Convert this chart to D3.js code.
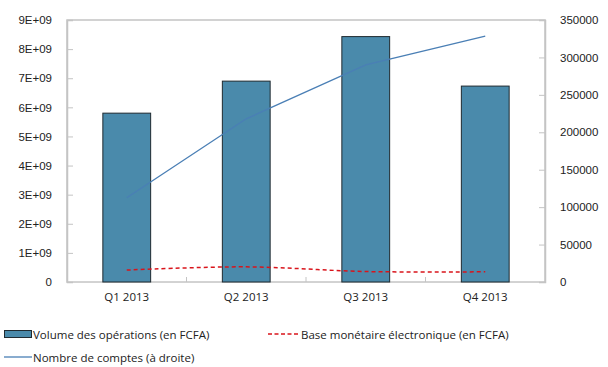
<!DOCTYPE html>
<html>
<head>
<meta charset="utf-8">
<script src="https://cdn.jsdelivr.net/npm/d3@7"></script>
<style>
  html, body { margin: 0; padding: 0; background: #fff; }
  svg { display: block; font-family: "Open Sans", "DejaVu Sans", sans-serif; }
</style>
</head>
<body>
<svg id="chart" width="608" height="367"></svg>
<script>
// Quarterly mobile money figures, 2013
const quarters = ["Q1 2013", "Q2 2013", "Q3 2013", "Q4 2013"];
const volumeOperations = [5.8e9, 6.9e9, 8.43e9, 6.73e9];          // bars, left axis
const baseMonetaire = [0.41e9, 0.52e9, 0.36e9, 0.35e9];            // dashed, left axis
const nombreComptes = [112600, 218000, 290000, 328500];            // line, right axis
const leftTicks = [0, 1e9, 2e9, 3e9, 4e9, 5e9, 6e9, 7e9, 8e9, 9e9];
const rightTicks = [0, 50000, 100000, 150000, 200000, 250000, 300000, 350000];

const svg = d3.select("#chart");
const m = { left: 67, right: 545, top: 20, bottom: 282 };

const x = d3.scaleBand().domain(quarters).range([m.left, m.right]);
const yL = d3.scaleLinear().domain([0, 9e9]).range([m.bottom, m.top]);
const yR = d3.scaleLinear().domain([0, 350000]).range([m.bottom, m.top]);

const axisColor = "#c4c4c4";
const textColor = "#222";

// Plot frame
svg.append("rect")
  .attr("x", m.left).attr("y", m.top)
  .attr("width", m.right - m.left).attr("height", m.bottom - m.top)
  .attr("fill", "none").attr("stroke", axisColor).attr("stroke-width", 1.5);

// Left axis
const fmtE = d => d === 0 ? "0" : (d / 1e9) + "E+09";
const gL = svg.append("g").attr("transform", `translate(${m.left},0)`)
  .call(d3.axisRight(yL).tickValues(leftTicks).tickSize(6).tickFormat(fmtE));
gL.select(".domain").attr("stroke", axisColor).attr("stroke-width", 1.5);
gL.selectAll(".tick line").attr("stroke", axisColor);
gL.selectAll(".tick text")
  .attr("x", -15).attr("text-anchor", "end")
  .attr("fill", textColor).attr("font-size", 11.5);

// Right axis
const gR = svg.append("g").attr("transform", `translate(${m.right},0)`)
  .call(d3.axisLeft(yR).tickValues(rightTicks).tickSize(6).tickFormat(d3.format("d")));
gR.select(".domain").attr("stroke", axisColor).attr("stroke-width", 1.5);
gR.selectAll(".tick line").attr("stroke", axisColor);
gR.selectAll(".tick text")
  .attr("x", 15).attr("text-anchor", "start")
  .attr("fill", textColor).attr("font-size", 11.5);

// Bottom axis: ticks at category boundaries, labels centred on categories
const boundaries = quarters.slice(1).map(q => x(q));
svg.append("g").selectAll("line").data(boundaries).join("line")
  .attr("x1", d => d).attr("x2", d => d)
  .attr("y1", m.bottom).attr("y2", m.bottom - 5)
  .attr("stroke", axisColor);
svg.append("g").selectAll("text").data(quarters).join("text")
  .attr("x", d => x(d) + x.bandwidth() / 2)
  .attr("y", 301)
  .attr("text-anchor", "middle")
  .attr("fill", textColor).attr("font-size", 11.5)
  .text(d => d);

// Bars
const barW = x.bandwidth() * 0.4;
svg.append("g").selectAll("rect").data(quarters).join("rect")
  .attr("x", (d) => x(d) + (x.bandwidth() - barW) / 2)
  .attr("y", (d, i) => yL(volumeOperations[i]))
  .attr("width", barW)
  .attr("height", (d, i) => m.bottom - yL(volumeOperations[i]))
  .attr("fill", "#4a8aab")
  .attr("stroke", "#1f2a30").attr("stroke-width", 1);

const cx = q => x(q) + x.bandwidth() / 2;

// Electronic money base (dashed, smoothed)
svg.append("path")
  .datum(quarters)
  .attr("d", d3.line().x(cx).y((d, i) => yL(baseMonetaire[i])).curve(d3.curveCatmullRom))
  .attr("fill", "none").attr("stroke", "#d9141b")
  .attr("stroke-width", 1.5).attr("stroke-dasharray", "4,3");

// Number of accounts (right axis)
svg.append("path")
  .datum(quarters)
  .attr("d", d3.line().x(cx).y((d, i) => yR(nombreComptes[i])))
  .attr("fill", "none").attr("stroke", "#4a7fb5").attr("stroke-width", 1.3);

// Legend
const lg = svg.append("g").attr("font-size", 11.5).attr("fill", textColor);
lg.append("rect").attr("x", 4.5).attr("y", 330.5).attr("width", 27).attr("height", 7)
  .attr("fill", "#4a8aab").attr("stroke", "#1f2a30").attr("stroke-width", 1);
lg.append("text").attr("x", 33).attr("y", 338.5).text("Volume des opérations (en FCFA)");
lg.append("line").attr("x1", 268).attr("x2", 300).attr("y1", 334).attr("y2", 334)
  .attr("stroke", "#d9141b").attr("stroke-width", 1.5).attr("stroke-dasharray", "4,2.5");
lg.append("text").attr("x", 301).attr("y", 338.5).text("Base monétaire électronique (en FCFA)");
lg.append("line").attr("x1", 4).attr("x2", 32).attr("y1", 357).attr("y2", 357)
  .attr("stroke", "#4a7fb5").attr("stroke-width", 1.3);
lg.append("text").attr("x", 33).attr("y", 361.5).text("Nombre de comptes (à droite)");
</script>
</body>
</html>
